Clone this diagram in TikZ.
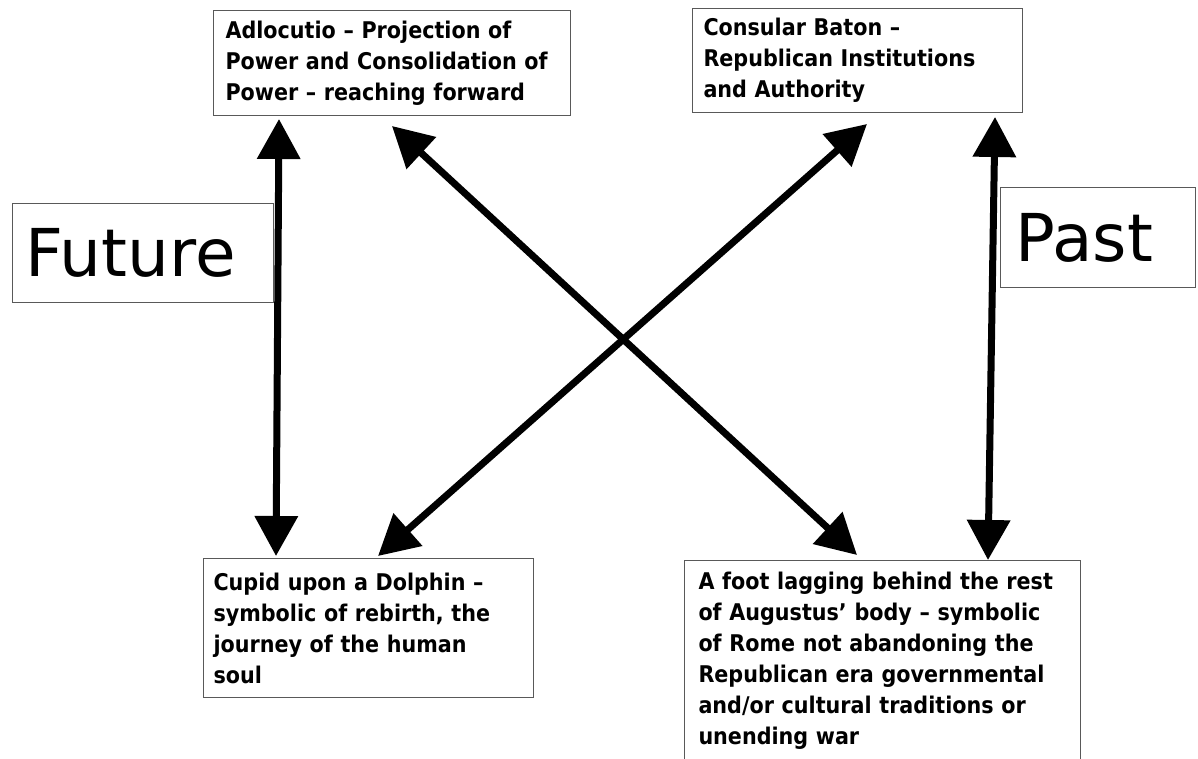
\documentclass[tikz,border=0pt]{standalone}
\usepackage{fontspec}
\setmainfont{DejaVu Sans}
\newfontfamily\boxfont{DejaVu Sans}[FakeStretch=0.9]
\usetikzlibrary{arrows.meta}
\begin{document}
\begin{tikzpicture}[x=1pt,y=-1pt,
  box/.style={draw=black!65, line width=1pt, anchor=north west, align=left,
    font=\boxfont\bfseries\fontsize{23}{31}\selectfont, inner ysep=0pt},
  big/.style={draw=black!65, line width=1pt, anchor=north west, align=left,
    font=\fontsize{66}{70}\selectfont, inner ysep=0pt},
  dbl/.style={line width=7pt,
    {Triangle[length=40pt,width=42pt]}-{Triangle[length=40pt,width=42pt]}}]
\fill[white] (0,0) rectangle (1198,759);
\useasboundingbox (0,0) rectangle (1198,759);

\node[box, text width=333pt, inner xsep=12pt, minimum height=105pt] (A) at (213,10)
  {Adlocutio – Projection of\\Power and Consolidation of\\Power – reaching forward};
\node[box, text width=308pt, inner xsep=11pt, minimum height=104pt] (B) at (692,8)
  {Consular Baton –\\Republican Institutions\\and Authority};
\node[box, text width=310pt, inner xsep=10pt, minimum height=139pt] (C) at (203,558)
  {Cupid upon a Dolphin –\\symbolic of rebirth, the\\journey of the human\\soul};
\node[box, text width=368pt, inner xsep=14pt, minimum height=200pt] (D) at (684,560)
  {A foot lagging behind the rest\\of Augustus’ body – symbolic\\of Rome not abandoning the\\Republican era governmental\\and/or cultural traditions or\\unending war};
\node[big, text width=235pt, inner xsep=13pt, minimum height=99pt] (F) at (12,203) {Future};
\node[big, text width=165pt, inner xsep=15pt, minimum height=100pt] (P) at (1000,187) {Past};

\draw[dbl] ([xshift=66pt,yshift=-3pt]A.south west) -- ([xshift=73pt,yshift=2pt]C.north west);
\draw[dbl] ([xshift=179pt,yshift=-10pt]A.south west) -- ([xshift=173pt,yshift=5pt]D.north west);
\draw[dbl] ([xshift=175pt,yshift=-11pt]B.south west) -- ([xshift=175pt,yshift=2pt]C.north west);
\draw[dbl] ([xshift=303pt,yshift=-4pt]B.south west) -- ([xshift=304pt]D.north west);
\end{tikzpicture}
\end{document}
